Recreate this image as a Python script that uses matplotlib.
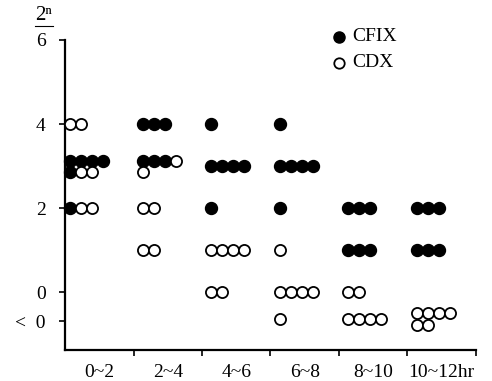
import numpy as np
import matplotlib.pyplot as plt
from matplotlib.lines import Line2D

plt.rcParams['font.family'] = ['Liberation Serif', 'DejaVu Serif']

categories = ["0~2", "2~4", "4~6", "6~8", "8~10", "10~12hr"]
y_ticks = [6, 4, 2, 0, -0.69]
y_ticklabels = ["6", "4", "2", "0", "<  0"]
series_names = ["CFIX", "CDX"]

# one entry per row of dots: time class, 2^n level, number of strains
cfix_cat = [0, 0, 0, 1, 1, 2, 2, 2, 3, 3, 3, 4, 4, 5, 5]
cfix_level = [3.12, 2.86, 2.0, 4.0, 3.12, 4.0, 3.0, 2.0, 4.0, 3.0, 2.0, 2.0, 1.0, 2.0, 1.0]
cfix_count = [4, 1, 1, 3, 3, 1, 4, 1, 1, 4, 1, 3, 3, 3, 3]

cdx_cat = [0, 0, 0, 1, 1, 1, 1, 2, 2, 3, 3, 3, 4, 4, 5, 5]
cdx_level = [4.0, 2.86, 2.0, 3.12, 2.86, 2.0, 1.0, 1.0, 0.0, 1.0, 0.0, -0.65, 0.0, -0.65, -0.5, -0.78]
cdx_count = [2, 2, 2, 1, 1, 2, 2, 4, 2, 1, 4, 1, 2, 4, 4, 2]

step = 0.16
used = {}


def row_points(cats, levels, counts):
    xs, ys = [], []
    for c, lv, n in zip(cats, levels, counts):
        start = 0.07 if c == 0 else 0.135
        k = used.get((c, lv), 0)
        for i in range(n):
            xs.append(c + start + (k + i) * step)
            ys.append(lv)
        used[(c, lv)] = k + n
    return xs, ys


fig = plt.figure(figsize=(4.92, 3.81), dpi=100)
ax = fig.add_axes([65 / 492, 31 / 381, 411 / 492, 310 / 381])

fx, fy = row_points(cfix_cat, cfix_level, cfix_count)
ox, oy = row_points(cdx_cat, cdx_level, cdx_count)
ax.plot(fx, fy, 'o', ms=8.6, color='k', ls='none', clip_on=False, zorder=3)
ax.plot(ox, oy, 'o', ms=8.0, mfc='white', mec='k', mew=1.3, ls='none',
        clip_on=False, zorder=4)

ax.set_xlim(0, 6)
ax.set_ylim(-1.38, 6)
ax.spines['top'].set_visible(False)
ax.spines['right'].set_visible(False)
ax.spines['left'].set_linewidth(1.6)
ax.spines['bottom'].set_linewidth(1.6)

ax.set_xticks(np.arange(1, 7))
ax.set_xticklabels([])
ax.set_xticks(np.arange(6) + 0.5, minor=True)
ax.set_xticklabels(categories, minor=True, fontsize=14)
ax.tick_params(axis='x', which='major', direction='out', length=4, width=1.2)
ax.tick_params(axis='x', which='minor', length=0, pad=10)

ax.set_yticks(y_ticks)
ax.set_yticklabels(y_ticklabels, fontsize=14)
ax.tick_params(axis='y', direction='out', length=4, width=1.2, pad=10)

# legend
ax.plot([0.667], [1.01], 'o', ms=8, color='k', transform=ax.transAxes, clip_on=False)
ax.plot([0.667], [0.926], 'o', ms=7.5, mfc='white', mec='k', mew=1.3,
        transform=ax.transAxes, clip_on=False)
ax.text(0.698, 1.01, series_names[0], transform=ax.transAxes, fontsize=14, va='center')
ax.text(0.698, 0.926, series_names[1], transform=ax.transAxes, fontsize=14, va='center')

# axis unit 2^n with a rule under it
fig.text(44 / 492, 1 - 16 / 381, "2ⁿ", fontsize=15, ha='center', va='center')
fig.add_artist(Line2D([35 / 492, 53 / 492], [1 - 26 / 381] * 2, color='k', lw=0.8))

fig.savefig("out.png", dpi=100)
